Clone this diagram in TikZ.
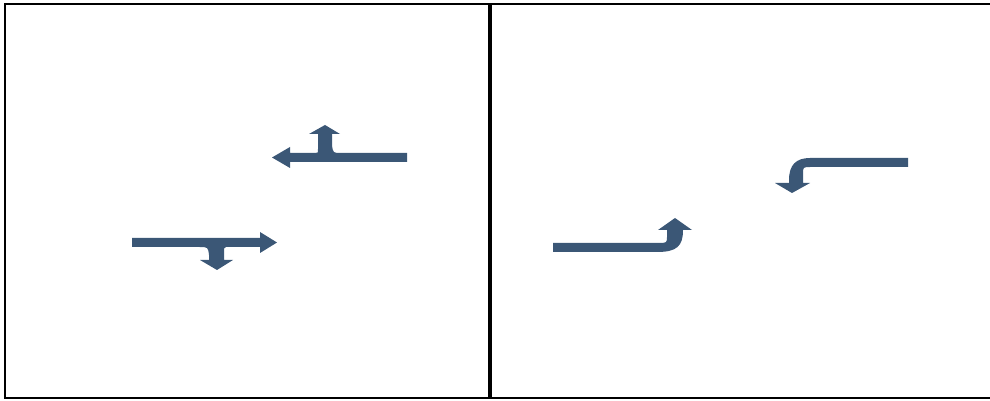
\documentclass[tikz,border=0pt]{standalone}
\usepackage{tikz}
\definecolor{laneblue}{RGB}{59,87,118}

\begin{document}
\begin{tikzpicture}[x=0.02cm,y=-0.02cm,
  turnarrow/.style={fill=laneblue},
  frameline/.style={draw=black,line width=0.05cm}]
\useasboundingbox (0,0) rectangle (990,401);

% frame and divider
\draw[frameline] (990,4) -- (5,4) -- (5,398) -- (990,398);
\draw[black, line width=0.065cm] (490,4) -- (490,398);

% left panel: straight on with a branch
\fill[turnarrow] (407,153) -- (341,153) .. controls (333,153) .. (332,145) -- (332,134)
  -- (340,134) -- (325,125) -- (309,134) -- (318,134) -- (318,149) .. controls (318,153) .. (315,153)
  -- (290,153) -- (290,147) -- (272,157.5) -- (290,168) -- (290,162) -- (407,162) -- cycle;
\fill[turnarrow] (132,238) -- (260,238) -- (260,232) -- (277,242.5) -- (260,253)
  -- (260,247) -- (226,247) .. controls (224,248) .. (224,252) -- (224,260) -- (233,260)
  -- (217,270) -- (200,260) -- (209,260) -- (209,255) .. controls (208,247) .. (199,247)
  -- (132,247) -- cycle;

% right panel: turning only
\fill[turnarrow] (553,243) -- (658,243) .. controls (667,243) .. (667,236) -- (667,230)
  -- (658,230) -- (675,218) -- (692,230) -- (683,230)
  .. controls (683,246) and (677,252) .. (657,252) -- (553,252) -- cycle;
\fill[turnarrow] (908,158) -- (810,158) .. controls (796,158) and (789,165) .. (789,180)
  -- (789,183) -- (775,183) -- (792,193) -- (810,183) -- (803,183) -- (803,174)
  .. controls (803,167) .. (811,167) -- (908,167) -- cycle;
\end{tikzpicture}
\end{document}
